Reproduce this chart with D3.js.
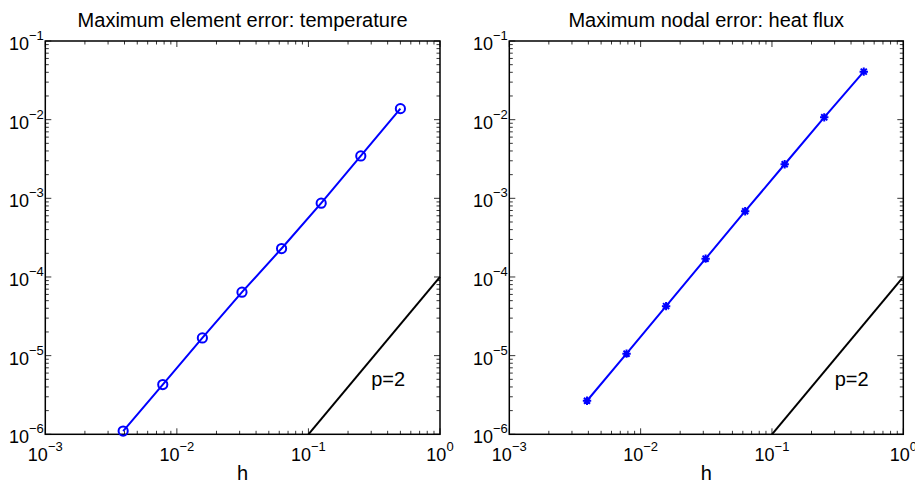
<!DOCTYPE html>
<html>
<head>
<meta charset="utf-8">
<script src="https://cdn.jsdelivr.net/npm/d3@7"></script>
<style>
  html, body { margin: 0; padding: 0; background: #fff; }
  svg { display: block; }
  text { font-family: "Liberation Sans", Arial, Helvetica, sans-serif; fill: #000; }
</style>
</head>
<body>
<svg id="chart" width="915" height="483"></svg>
<script>
// ---------------- data ----------------
const meshSize = [0.5, 0.25, 0.125, 0.0625, 0.03125, 0.015625, 0.0078125, 0.00390625];
const temperatureError = [0.0138, 0.00346, 8.67e-4, 2.30e-4, 6.41e-5, 1.68e-5, 4.29e-6, 1.10e-6];
const heatFluxError = [0.0408, 0.0107, 0.00271, 6.86e-4, 1.71e-4, 4.26e-5, 1.06e-5, 2.67e-6];
const refSlopeH = [0.1, 1];
const refSlopeErr = [1e-6, 1e-4];
const refLabel = "p=2";
const refLabelPos = [0.3, 4.13e-6];
const xTickValues = [1e-3, 1e-2, 1e-1, 1];
const xTickExponents = ["\u22123", "\u22122", "\u22121", "0"];
const yTickValues = [1e-6, 1e-5, 1e-4, 1e-3, 1e-2, 1e-1];
const yTickExponents = ["\u22126", "\u22125", "\u22124", "\u22123", "\u22122", "\u22121"];
const panelTitles = ["Maximum element error: temperature", "Maximum nodal error: heat flux"];
const xLabel = "h";

// ---------------- layout ----------------
const svg = d3.select("#chart");
const panels = [
  { left: 45.3, right: 440, values: temperatureError, marker: "circle", title: panelTitles[0] },
  { left: 509.3, right: 903.3, values: heatFluxError, marker: "star", title: panelTitles[1] }
];
const plotTop = 41, plotBottom = 434.3;
const blue = "#0000ff";
const tickFont = 18, supFont = 13, supShift = -10;

function minorValues(lo, hi) {
  const out = [];
  for (let e = Math.round(Math.log10(lo)); e < Math.round(Math.log10(hi)); e++) {
    for (let m = 2; m <= 9; m++) out.push(m * Math.pow(10, e));
  }
  return out;
}

panels.forEach(p => {
  const x = d3.scaleLog().domain([1e-3, 1]).range([p.left, p.right]);
  const y = d3.scaleLog().domain([1e-6, 1e-1]).range([plotBottom, plotTop]);
  const g = svg.append("g");

  // ticks (inward, on all four sides)
  const xMinor = minorValues(1e-3, 1);
  const yMinor = minorValues(1e-6, 1e-1);
  const tickG = g.append("g").attr("stroke", "#000").attr("stroke-width", 0.8);
  const majorLen = 6, minorLen = 3.5;
  xTickValues.forEach(v => {
    tickG.append("line").attr("x1", x(v)).attr("x2", x(v)).attr("y1", plotBottom).attr("y2", plotBottom - majorLen);
    tickG.append("line").attr("x1", x(v)).attr("x2", x(v)).attr("y1", plotTop).attr("y2", plotTop + majorLen);
  });
  xMinor.forEach(v => {
    tickG.append("line").attr("x1", x(v)).attr("x2", x(v)).attr("y1", plotBottom).attr("y2", plotBottom - minorLen);
    tickG.append("line").attr("x1", x(v)).attr("x2", x(v)).attr("y1", plotTop).attr("y2", plotTop + minorLen);
  });
  yTickValues.forEach(v => {
    tickG.append("line").attr("y1", y(v)).attr("y2", y(v)).attr("x1", p.left).attr("x2", p.left + majorLen);
    tickG.append("line").attr("y1", y(v)).attr("y2", y(v)).attr("x1", p.right).attr("x2", p.right - majorLen);
  });
  yMinor.forEach(v => {
    tickG.append("line").attr("y1", y(v)).attr("y2", y(v)).attr("x1", p.left).attr("x2", p.left + minorLen);
    tickG.append("line").attr("y1", y(v)).attr("y2", y(v)).attr("x1", p.right).attr("x2", p.right - minorLen);
  });

  // frame
  g.append("rect")
    .attr("x", p.left).attr("y", plotTop)
    .attr("width", p.right - p.left).attr("height", plotBottom - plotTop)
    .attr("fill", "none").attr("stroke", "#000").attr("stroke-width", 1.5);

  // x tick labels
  xTickValues.forEach((v, i) => {
    const t = g.append("text")
      .attr("x", x(v)).attr("y", 461)
      .attr("text-anchor", "middle")
      .attr("font-size", tickFont);
    t.append("tspan").text("10");
    t.append("tspan").attr("font-size", supFont).attr("dy", supShift).text(xTickExponents[i]);
  });
  // y tick labels
  yTickValues.forEach((v, i) => {
    const t = g.append("text")
      .attr("x", p.left - 1.5).attr("y", y(v) + 9)
      .attr("text-anchor", "end")
      .attr("font-size", tickFont);
    t.append("tspan").text("10");
    t.append("tspan").attr("font-size", supFont).attr("dy", supShift).text(yTickExponents[i]);
  });

  // title
  g.append("text")
    .attr("x", (p.left + p.right) / 2).attr("y", 26.5)
    .attr("text-anchor", "middle")
    .attr("font-size", 20)
    .text(p.title);
  // x label
  g.append("text")
    .attr("x", (p.left + p.right) / 2).attr("y", 480)
    .attr("text-anchor", "middle")
    .attr("font-size", 20)
    .text(xLabel);

  // reference slope line
  const lineGen = d3.line().x(d => x(d[0])).y(d => y(d[1]));
  g.append("path")
    .datum(refSlopeH.map((h, i) => [h, refSlopeErr[i]]))
    .attr("d", lineGen)
    .attr("fill", "none").attr("stroke", "#000").attr("stroke-width", 2);
  g.append("text")
    .attr("x", x(refLabelPos[0])).attr("y", y(refLabelPos[1]))
    .attr("font-size", 20)
    .text(refLabel);

  // data line
  const pts = meshSize.map((h, i) => [h, p.values[i]]);
  g.append("path")
    .datum(pts)
    .attr("d", lineGen)
    .attr("fill", "none").attr("stroke", blue).attr("stroke-width", 2);

  // markers
  if (p.marker === "circle") {
    g.selectAll(null).data(pts).enter().append("circle")
      .attr("cx", d => x(d[0])).attr("cy", d => y(d[1]))
      .attr("r", 4.6)
      .attr("fill", "none").attr("stroke", blue).attr("stroke-width", 2);
  } else {
    const r = 4.2, rd = r * 0.72;
    g.selectAll(null).data(pts).enter().append("path")
      .attr("transform", d => `translate(${x(d[0])},${y(d[1])})`)
      .attr("d", `M${-r},0H${r}M0,${-r}V${r}M${-rd},${-rd}L${rd},${rd}M${-rd},${rd}L${rd},${-rd}`)
      .attr("fill", "none").attr("stroke", blue).attr("stroke-width", 2);
  }
});
</script>
</body>
</html>
